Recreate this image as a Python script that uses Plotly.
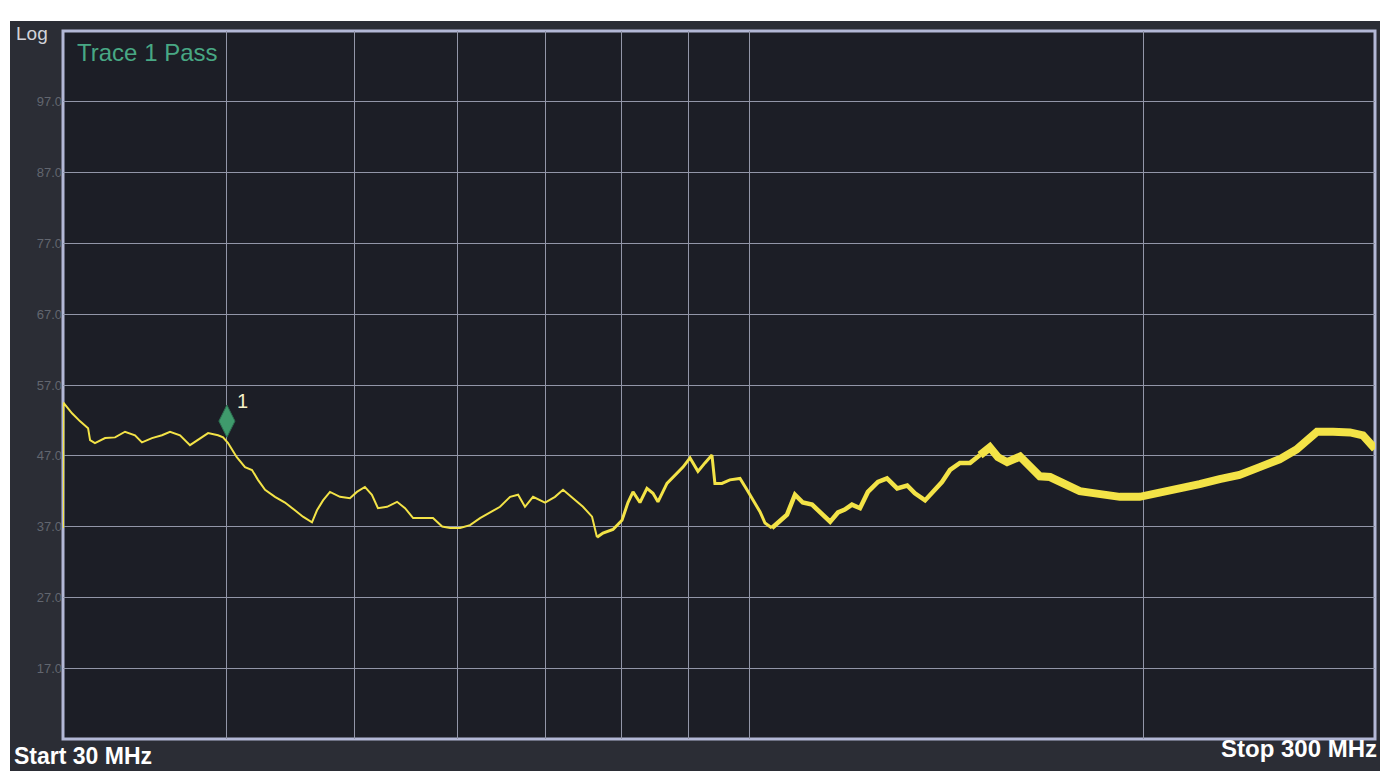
import math
import plotly.graph_objects as go

# ---- data (frequency MHz, level dB) ----
freq_mhz = [
    30.0, 30.02, 30.48, 30.9, 31.35, 31.46, 31.73, 32.3, 32.87, 33.45, 34.04, 34.46,
    35.07, 35.69, 36.2, 36.84, 37.49, 38.02, 38.7, 39.38, 39.73, 40.08, 40.7, 41.29,
    41.8, 42.24, 42.77, 43.52, 44.29, 45.07, 45.71, 46.44, 46.85, 47.35, 47.93, 48.78,
    49.64, 50.25, 50.96, 51.59, 52.14, 52.98, 53.92, 54.68, 55.46, 56.44, 57.43, 58.36,
    59.18, 60.22, 61.29, 62.37, 63.48, 64.6, 65.75, 66.68, 67.49, 68.45, 69.91, 71.14,
    72.15, 73.42, 74.72, 75.92, 76.58, 77.39, 78.76, 80.02, 80.86, 81.58, 82.58, 83.6,
    84.49, 85.23, 86.59, 88.13, 89.06, 90.16, 91.43, 92.56, 93.7, 94.19, 95.35, 96.7,
    98.43, 99.64, 100.7, 101.94, 102.85, 104.1, 105.6, 106.9, 108.4, 109.9, 111.7, 113.3,
    115.3, 116.9, 118.3, 119.8, 121.5, 123.2, 125.4, 127.4, 129.7, 132.0, 133.8, 136.2,
    138.1, 140.3, 142.3, 144.8, 147.4, 150.0, 152.6, 154.8, 157.3, 160.9, 163.7, 166.6,
    169.6, 172.6, 175.6, 178.7, 181.9, 185.1, 191.7, 198.5, 205.6, 212.9, 220.5, 228.4,
    236.5, 245.0, 253.7, 261.4, 266.2, 271.0, 278.7, 287.1, 293.7, 299.0, 300.0,
]
level_db = [
    36.8, 54.5, 53.0, 51.9, 50.9, 49.2, 48.8, 49.5, 49.6, 50.4, 49.9, 48.9,
    49.5, 49.9, 50.4, 49.9, 48.5, 49.2, 50.2, 49.9, 49.6, 48.8, 46.8, 45.4,
    45.0, 43.6, 42.2, 41.2, 40.4, 39.3, 38.4, 37.6, 39.3, 40.7, 41.9, 41.2,
    41.0, 41.9, 42.6, 41.5, 39.6, 39.8, 40.5, 39.6, 38.2, 38.2, 38.2, 37.0,
    36.8, 36.8, 37.2, 38.2, 39.0, 39.8, 41.2, 41.5, 39.8, 41.2, 40.4, 41.2,
    42.2, 41.0, 39.8, 38.4, 35.5, 36.1, 36.6, 37.9, 40.4, 41.9, 40.4, 42.4,
    41.7, 40.5, 43.1, 44.6, 45.4, 46.7, 44.8, 46.0, 47.1, 43.1, 43.1, 43.6,
    43.8, 42.2, 40.8, 39.1, 37.5, 36.8, 37.9, 38.7, 41.5, 40.4, 40.1, 39.0,
    37.7, 39.0, 39.4, 40.1, 39.6, 41.9, 43.3, 43.8, 42.4, 42.8, 41.7, 40.7,
    41.9, 43.3, 45.0, 46.0, 46.0, 47.1, 48.2, 46.8, 46.1, 46.9, 45.5, 44.1,
    44.0, 43.3, 42.7, 42.0, 41.8, 41.6, 41.2, 41.2, 41.8, 42.2, 43.0, 43.7,
    44.3, 45.4, 46.5, 47.9, 49.3, 50.4, 50.4, 50.3, 49.9, 48.2, 48.0,
]
grid_freqs = [40, 50, 60, 70, 80, 90, 100, 200]
level_ticks = [17, 27, 37, 47, 57, 67, 77, 87, 97]
level_tick_labels = ["17.0", "27.0", "37.0", "47.0", "57.0", "67.0", "77.0", "87.0", "97.0"]
marker_freq = [40]
marker_level = [51.9]
start_label = "Start 30 MHz"
stop_label = "Stop 300 MHz"
f_start, f_stop = 30, 300
ref_low, ref_high = 7, 107

# ---- styling ----
W, H = 1380, 771
ML, MR, MT, MB = 63, 5, 31, 32
PW, PH = W - ML - MR, H - MT - MB
YELLOW = "#f3e347"
FONT = "Liberation Sans, Arial, sans-serif"

def px_x(px):
    return (px - ML) / PW

def px_y(py):
    return 1 - (py - MT) / PH

fig = go.Figure()

# trace drawn in segments of increasing thickness (the noise band widens to the right)
segments = [(30, 76.58, 2.0), (76.58, 104.1, 3.0), (104.1, 150.0, 4.5), (150.0, 300, 8.0)]
for lo, hi, w in segments:
    xs = [f for f in freq_mhz if lo <= f <= hi]
    ys = [l for f, l in zip(freq_mhz, level_db) if lo <= f <= hi]
    fig.add_trace(go.Scatter(x=xs, y=ys, mode="lines",
                             line=dict(color=YELLOW, width=w),
                             hoverinfo="skip", showlegend=False, cliponaxis=False))

fig.add_trace(go.Scatter(x=marker_freq, y=marker_level, mode="markers",
                         marker=dict(symbol="diamond-tall", size=23, color="#3f9a6c",
                                     line=dict(color="#2c6e50", width=1)),
                         hoverinfo="skip", showlegend=False))

fig.update_xaxes(type="log", range=[math.log10(f_start), math.log10(f_stop)],
                 tickvals=grid_freqs, showticklabels=False, ticks="",
                 showgrid=True, gridcolor="#9296a8", gridwidth=1,
                 zeroline=False, showline=False)
fig.update_yaxes(range=[ref_low, ref_high], tickvals=level_ticks, ticktext=level_tick_labels,
                 tickfont=dict(family=FONT, size=13, color="#62666f"), ticks="",
                 showgrid=True, gridcolor="#9296a8", gridwidth=1,
                 zeroline=False, showline=False)

shapes = [
    # dark instrument screen
    dict(type="rect", xref="paper", yref="paper", layer="below",
         x0=px_x(10), x1=px_x(1382), y0=px_y(773), y1=px_y(21),
         fillcolor="#2b2d35", line=dict(width=0)),
    # darker plotting area
    dict(type="rect", xref="paper", yref="paper", layer="below",
         x0=0, x1=1, y0=0, y1=1, fillcolor="#1c1e26", line=dict(width=0)),
    # plot border
    dict(type="rect", xref="paper", yref="paper", layer="below",
         x0=0, x1=1, y0=0, y1=1, line=dict(color="#b3b8d6", width=3)),
]

annotations = [
    dict(text="Log", xref="paper", yref="paper", x=px_x(14), y=px_y(34),
         xanchor="left", yanchor="middle", showarrow=False,
         font=dict(family=FONT, size=19, color="#d2d3da")),
    dict(text="Trace 1 Pass", xref="paper", yref="paper", x=px_x(75), y=px_y(52),
         xanchor="left", yanchor="middle", showarrow=False,
         font=dict(family=FONT, size=24, color="#48a884")),
    dict(text=start_label, xref="paper", yref="paper", x=px_x(12), y=px_y(756),
         xanchor="left", yanchor="middle", showarrow=False,
         font=dict(family=FONT, size=23, color="#ffffff", weight="bold")),
    dict(text=stop_label, xref="paper", yref="paper", x=px_x(1379), y=px_y(748),
         xanchor="right", yanchor="middle", showarrow=False,
         font=dict(family=FONT, size=24, color="#ffffff", weight="bold")),
    dict(text="1", xref="x", yref="y", x=math.log10(marker_freq[0]), y=marker_level[0],
         xshift=16, yshift=20, showarrow=False,
         font=dict(family=FONT, size=20, color="#f4f1c8")),
]

fig.update_layout(width=W, height=H, margin=dict(l=ML, r=MR, t=MT, b=MB),
                  paper_bgcolor="#ffffff", plot_bgcolor="#1c1e26",
                  shapes=shapes, annotations=annotations, showlegend=False)

fig.write_html("out.html", config={"displayModeBar": False},
               post_script="document.body.style.margin='0';document.body.style.overflow='hidden';")
